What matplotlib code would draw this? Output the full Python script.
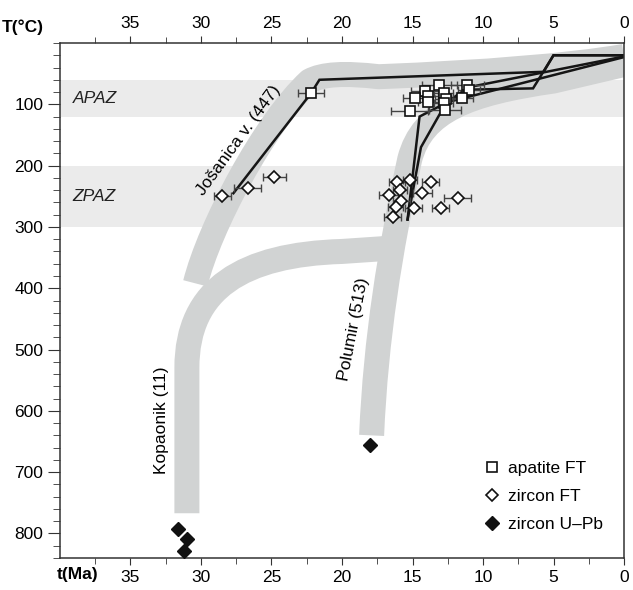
import numpy as np
import matplotlib.pyplot as plt
from matplotlib.path import Path
from matplotlib.patches import PathPatch

plt.rcParams['font.family'] = ['Liberation Sans', 'DejaVu Sans']

# apatite FT (t Ma, T degC, +- error Ma)
ap_t = [22.2, 13.1, 11.1, 11.0, 14.1, 12.8, 14.8, 13.9, 13.9, 12.6, 11.5, 12.8, 15.2, 12.7]
ap_T = [82, 68, 68, 76, 78, 82, 90, 87, 97, 92, 89, 98, 111, 109]
ap_err = [0.9, 1.25, 1.2, 0.8, 1.0, 0.7, 0.85, 0.7, 0.7, 0.8, 0.8, 0.7, 1.3, 1.15]

# zircon FT
zr_t = [24.8, 26.7, 28.5, 16.1, 15.2, 13.7, 15.9, 16.7, 14.3, 11.8, 15.8, 16.2, 14.9, 13.0, 16.4]
zr_T = [219, 237, 249, 226, 223, 227, 239, 248, 245, 252, 257, 268, 269, 269, 284]
zr_err = [0.83, 0.95, 0.6, 0.6, 0.5, 0.6, 0.5, 0.65, 0.65, 0.95, 0.6, 0.55, 0.6, 0.6, 0.6]

# zircon U-Pb
upb_t = [31.6, 31.0, 31.2, 18.0]
upb_T = [793, 809, 828, 655]

# partial annealing zones
paz_names = ['APAZ', 'ZPAZ']
paz_lo = [60, 200]
paz_hi = [120, 300]

# modelled t-T paths
jos_t = [27.7, 22.2, 21.6, 5.7, 5.0, 0.0]
jos_T = [245, 82, 60, 47, 20, 20]
pol1_t = [15.35, 14.5, 10.8, 6.45, 5.0, 0.0]
pol1_T = [288, 120, 76, 74, 20, 20]
pol2_t = [15.35, 14.4, 12.6, 0.0]
pol2_T = [288, 170, 97, 23]
pol3_t = [12.6, 11.0, 0.0]
pol3_T = [97, 72, 22]

# envelope bands (path vertices)
jos_band = [(30.4, 392), (29.4, 300), (25.5, 130), (22.3, 62), (21.0, 45), (17.4, 55), (6.0, 45), (0.0, 22)]
jos_codes = [Path.MOVETO, Path.CURVE4, Path.CURVE4, Path.CURVE4, Path.CURVE3, Path.CURVE3, Path.CURVE3, Path.CURVE3]
kop_band = [(31.0, 767), (31.0, 530), (31.0, 400), (27.0, 345), (20.0, 340), (16.8, 335)]
kop_codes = [Path.MOVETO, Path.LINETO, Path.CURVE4, Path.CURVE4, Path.CURVE4, Path.LINETO]
pol_band = [(17.9, 640), (17.6, 480), (16.6, 340), (15.2, 190), (14.3, 110), (11.0, 82), (5.0, 62), (0.0, 35)]
pol_codes = [Path.MOVETO, Path.CURVE4, Path.CURVE4, Path.CURVE4, Path.CURVE4, Path.CURVE4, Path.CURVE4, Path.LINETO]

fig = plt.figure(figsize=(6.33, 5.90), dpi=100)
ax = fig.add_axes([60/633, 32/590, 564/633, 515/590])

for name, lo, hi in zip(paz_names, paz_lo, paz_hi):
    ax.axhspan(lo, hi, color='#ebebeb', lw=0, zorder=0)
    ax.text(39.1, (lo + hi) / 2, name, style='italic', fontsize=12.5, va='center', ha='left', color='#222222')

for verts, codes in [(jos_band, jos_codes), (kop_band, kop_codes), (pol_band, pol_codes)]:
    ax.add_patch(PathPatch(Path(verts, codes), fill=False, ec='#d1d3d3', lw=18, capstyle='butt', joinstyle='round', zorder=1))

for tt, TT in [(jos_t, jos_T), (pol1_t, pol1_T), (pol2_t, pol2_T), (pol3_t, pol3_T)]:
    ax.plot(tt, TT, color='#151515', lw=1.8, zorder=2, solid_joinstyle='miter')

ebkw = dict(ecolor='#444444', elinewidth=1, capsize=3, capthick=1, ls='none', zorder=3)
ax.errorbar(ap_t, ap_T, xerr=ap_err, **ebkw)
ax.errorbar(zr_t, zr_T, xerr=zr_err, **ebkw)
ax.plot(ap_t, ap_T, 's', ms=6.5, mfc='white', mec='#111111', mew=1.2, ls='none', zorder=4, label='apatite FT')
ax.plot(zr_t, zr_T, 'D', ms=6.5, mfc='white', mec='#111111', mew=1.2, ls='none', zorder=4, label='zircon FT')
ax.plot(upb_t, upb_T, 'D', ms=7.5, mfc='#111111', mec='#111111', ls='none', zorder=4, label='zircon U\u2013Pb')

ax.text(27.3, 158, 'Jošanica v. (447)', rotation=54, fontsize=12.5, ha='center', va='center')
ax.text(32.8, 616, 'Kopaonik (11)', rotation=90, fontsize=12.5, ha='center', va='center')
ax.text(19.2, 467, 'Polumir (513)', rotation=79, fontsize=12.5, ha='center', va='center')

ax.set_xlim(40, 0)
ax.set_ylim(840, 0)
ax.set_xticks(np.arange(0, 36, 5))
ax.set_xticks(np.arange(0, 40, 2.5), minor=True)
ax.set_yticks(np.arange(100, 801, 100))
ax.set_yticks(np.arange(0, 841, 20), minor=True)
ax.tick_params(axis='x', which='both', top=True, labeltop=True, direction='out', labelsize=12.5, color='#333333')
ax.tick_params(axis='x', which='major', length=5)
ax.tick_params(axis='x', which='minor', length=4)
ax.tick_params(axis='y', which='major', length=8.5, labelsize=12.5, color='#333333')
ax.tick_params(axis='y', which='minor', length=5, color='#333333')
for s in ax.spines.values():
    s.set_color('#333333')
    s.set_linewidth(1.1)

fig.text(2/633, 1 - 27/590, 'T(°C)', fontsize=12.5, fontweight='bold', va='center', ha='left')
fig.text(57/633, 1 - 575/590, 't(Ma)', fontsize=12.5, fontweight='bold', va='center', ha='left')

ax.legend(loc='lower right', bbox_to_anchor=(0.99, 0.02), frameon=False, fontsize=12.5,
          handletextpad=0.3, labelspacing=0.75, handlelength=1.2)

fig.savefig('out.png', dpi=100)
